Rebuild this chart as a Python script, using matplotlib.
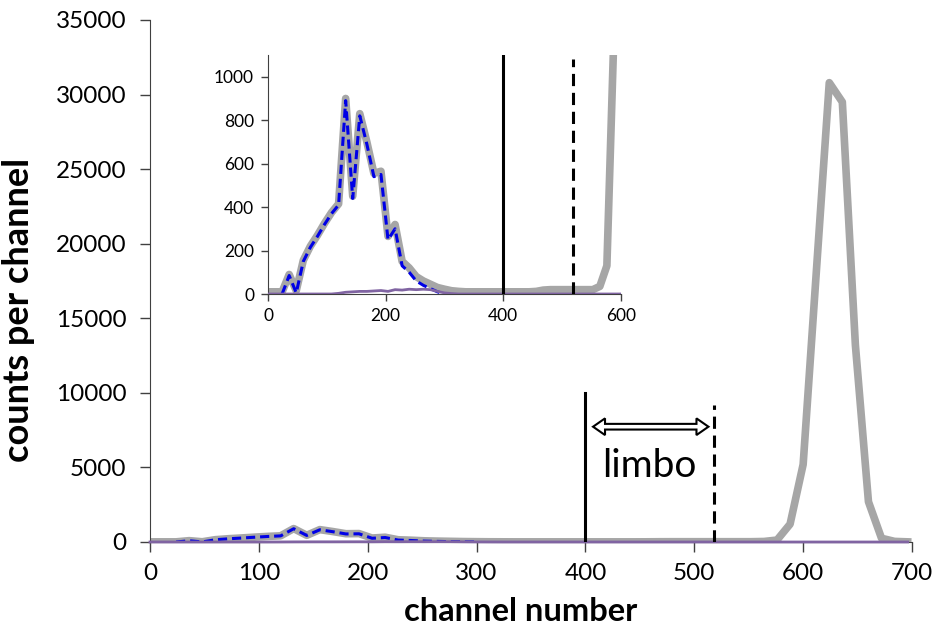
import numpy as np
import matplotlib
matplotlib.use("Agg")
import matplotlib.pyplot as plt
from matplotlib.patches import Polygon

plt.rcParams['font.family'] = ['Lato', 'DejaVu Sans']

nan = np.nan

# channel grid (step of 12 channels)
channels = np.arange(0, 697, 12)

# total spectrum (grey)
total = [10, 10, 10, 90, 15, 155, 220, 270, 325, 375, 415, 900, 450, 830, 700,
         555, 565, 265, 320, 150, 120, 80, 60, 45, 30, 22, 15, 12, 10, 10,
         10, 10, 10, 10, 10, 10, 10, 10, 12, 18, 20, 20, 20, 20, 20, 20, 20, 35,
         130, 1200, 5200, 18000, 30800, 29500, 13200, 2700, 250, 40, 10]

# signal counts (blue dashed)
signal = [nan, nan, 0, 85, 5, 150, 215, 265, 320, 370, 410, 890, 440, 820, 690,
          540, 550, 250, 300, 130, 100, 60, 40, 25, 10, 0, nan, nan, nan, nan,
          nan, nan, nan, nan, nan, nan, nan, nan, nan, nan, nan, nan, nan, nan,
          nan, nan, nan, nan, nan, nan, nan, nan, nan, nan, nan, nan, nan, nan, nan]

# background counts (purple)
background = [0, 0, 0, 0, 0, 0, 0, 0, 0, 0, 3, 8, 10, 12, 12,
              14, 16, 12, 20, 18, 22, 20, 22, 20, 12, 5, 2, 0, 0, 0,
              0, 0, 0, 0, 0, 0, 0, 0, 0, 0, 0, 0, 0, 0, 0, 0, 0, 0,
              0, 0, 0, 0, 0, 0, 0, 0, 0, 0, 0]

thr_low = 400
thr_high = 518

grey = '#A6A6A6'
blue = '#0000E6'
purple = '#8064A2'
spine_col = '#404040'


def draw_spectra(a, clip=True):
    a.plot(channels, total, color=grey, lw=5.5, zorder=2)
    a.plot(channels, signal, color=blue, lw=2.2, ls=(0, (3, 1.6)), zorder=3)
    a.plot(channels, background, color=purple, lw=2.0, zorder=4, clip_on=clip)


fig = plt.figure(figsize=(9.35, 6.31), dpi=100)

ax = fig.add_axes([150/935, 1 - 542/631, 762/935, 522/631])
draw_spectra(ax, clip=False)
ax.plot([thr_low, thr_low], [0, 10000], color='black', lw=2.2, zorder=5)
ax.plot([thr_high, thr_high], [0, 9200], color='black', lw=2.2,
        ls=(0, (4, 2.2)), zorder=5)

# limbo arrow: hollow double-headed arrow
x0, x1, yc = 407, 513, 7730
hl, hh, hs = 11, 560, 190
arrow = Polygon([(x0, yc), (x0 + hl, yc + hh), (x0 + hl, yc + hs),
                 (x1 - hl, yc + hs), (x1 - hl, yc + hh), (x1, yc),
                 (x1 - hl, yc - hh), (x1 - hl, yc - hs), (x0 + hl, yc - hs),
                 (x0 + hl, yc - hh)], closed=True, fc='white', ec='black',
                lw=1.5, joinstyle='miter', zorder=6)
ax.add_patch(arrow)
ax.text(459, 5100, 'limbo', fontsize=28, ha='center', va='center')

ax.set_xlim(0, 700)
ax.set_ylim(0, 35000)
ax.set_xticks(np.arange(0, 701, 100))
ax.set_yticks(np.arange(0, 35001, 5000))
ax.tick_params(labelsize=17.5, length=7, width=1, color=spine_col)
ax.tick_params(axis='x', pad=8)
ax.tick_params(axis='y', pad=10)
for s in ['top', 'right']:
    ax.spines[s].set_visible(False)
for s in ['left', 'bottom']:
    ax.spines[s].set_color(spine_col)
ax.set_xlabel('channel number', fontsize=23.5, fontweight='bold')
ax.set_ylabel('counts per channel', fontsize=26, fontweight='bold')
ax.xaxis.set_label_coords(0.487, -0.105)
ax.yaxis.set_label_coords(-0.151, 0.444)

# inset zoom on low counts
ins = fig.add_axes([268/935, 1 - 294/631, 353/935, 239/631])
ins.patch.set_alpha(0)
draw_spectra(ins)
ins.plot([thr_low, thr_low], [0, 1100], color='black', lw=2.2, zorder=5)
ins.plot([thr_high, thr_high], [0, 1080], color='black', lw=2.2,
         ls=(0, (4, 2.2)), zorder=5)
ins.set_xlim(0, 600)
ins.set_ylim(0, 1100)
ins.set_xticks([0, 200, 400, 600])
ins.set_yticks(np.arange(0, 1001, 200))
ins.tick_params(labelsize=12.5, length=5, width=1, color=spine_col, pad=5)
for s in ['top', 'right']:
    ins.spines[s].set_visible(False)
for s in ['left', 'bottom']:
    ins.spines[s].set_color(spine_col)

fig.savefig('out.png', dpi=100)
